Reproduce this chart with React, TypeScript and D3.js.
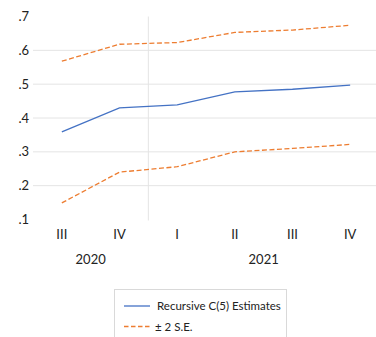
import React from "react";
import * as d3 from "d3";

const quarters = ["III", "IV", "I", "II", "III", "IV"];
const years = [
  { label: "2020", from: 0, to: 1 },
  { label: "2021", from: 2, to: 5 },
];
const estimates = [0.359, 0.43, 0.439, 0.477, 0.485, 0.497];
const upperSE = [0.568, 0.618, 0.623, 0.653, 0.66, 0.674];
const lowerSE = [0.149, 0.24, 0.256, 0.3, 0.31, 0.322];
const yTicks = [0.1, 0.2, 0.3, 0.4, 0.5, 0.6, 0.7];
const gridTicks = [0.2, 0.3, 0.4, 0.5, 0.6];
const legendLabels = ["Recursive C(5) Estimates", "\u00b1 2 S.E."];

const W = 376;
const H = 337;
const left = 33;
const right = 379;
const top = 16.5;
const bottom = 219.5;
const FONT = "Lato, 'Open Sans', sans-serif";
const BLUE = "#4472C4";
const ORANGE = "#ED7D31";

export default function App() {
  const x = d3
    .scaleBand<number>()
    .domain(d3.range(quarters.length))
    .range([left, right])
    .paddingInner(0)
    .paddingOuter(0);
  const y = d3.scaleLinear().domain([0.1, 0.7]).range([bottom, top]);
  const cx = (i: number) => (x(i) as number) + x.bandwidth() / 2;
  const line = d3
    .line<number>()
    .x((_, i) => cx(i))
    .y((d) => y(d));

  return (
    <svg
      width={W}
      height={H}
      style={{ position: "absolute", left: 0, top: 0, background: "#fff" }}
      fontFamily={FONT}
    >
      {gridTicks.map((t) => (
        <line
          key={t}
          x1={left}
          x2={W}
          y1={y(t)}
          y2={y(t)}
          stroke="#E4E4E4"
          strokeWidth={1}
        />
      ))}
      <line
        x1={x(2) as number}
        x2={x(2) as number}
        y1={top}
        y2={bottom + 1}
        stroke="#E4E4E4"
        strokeWidth={1}
      />
      {yTicks.map((t) => (
        <text
          key={t}
          x={29}
          y={y(t)}
          dy="0.35em"
          textAnchor="end"
          fontSize={13}
          fill="#222"
        >
          {d3.format(".1f")(t).replace(/^0/, "")}
        </text>
      ))}
      <path d={line(upperSE) || ""} fill="none" stroke={ORANGE} strokeWidth={1.3} strokeDasharray="5,2.5" />
      <path d={line(lowerSE) || ""} fill="none" stroke={ORANGE} strokeWidth={1.3} strokeDasharray="5,2.5" />
      <path d={line(estimates) || ""} fill="none" stroke={BLUE} strokeWidth={1.3} />
      {quarters.map((q, i) => (
        <text key={i} x={cx(i)} y={239} textAnchor="middle" fontSize={13} fill="#222">
          {q}
        </text>
      ))}
      {years.map((yr) => (
        <text
          key={yr.label}
          x={(cx(yr.from) + cx(yr.to)) / 2}
          y={264}
          textAnchor="middle"
          fontSize={13}
          fill="#222"
        >
          {yr.label}
        </text>
      ))}
      <rect x={114.5} y={289.5} width={172} height={60} fill="#fff" stroke="#D9D9D9" strokeWidth={1} />
      <line x1={124} x2={150} y1={306} y2={306} stroke={BLUE} strokeWidth={1.3} />
      <text x={157} y={306} dy="0.35em" fontSize={11.5} fill="#222">
        {legendLabels[0]}
      </text>
      <line x1={124} x2={150} y1={326.5} y2={326.5} stroke={ORANGE} strokeWidth={1.3} strokeDasharray="4.5,2.5" />
      <text x={155} y={326.5} dy="0.35em" fontSize={11.5} fill="#222">
        {legendLabels[1]}
      </text>
    </svg>
  );
}
